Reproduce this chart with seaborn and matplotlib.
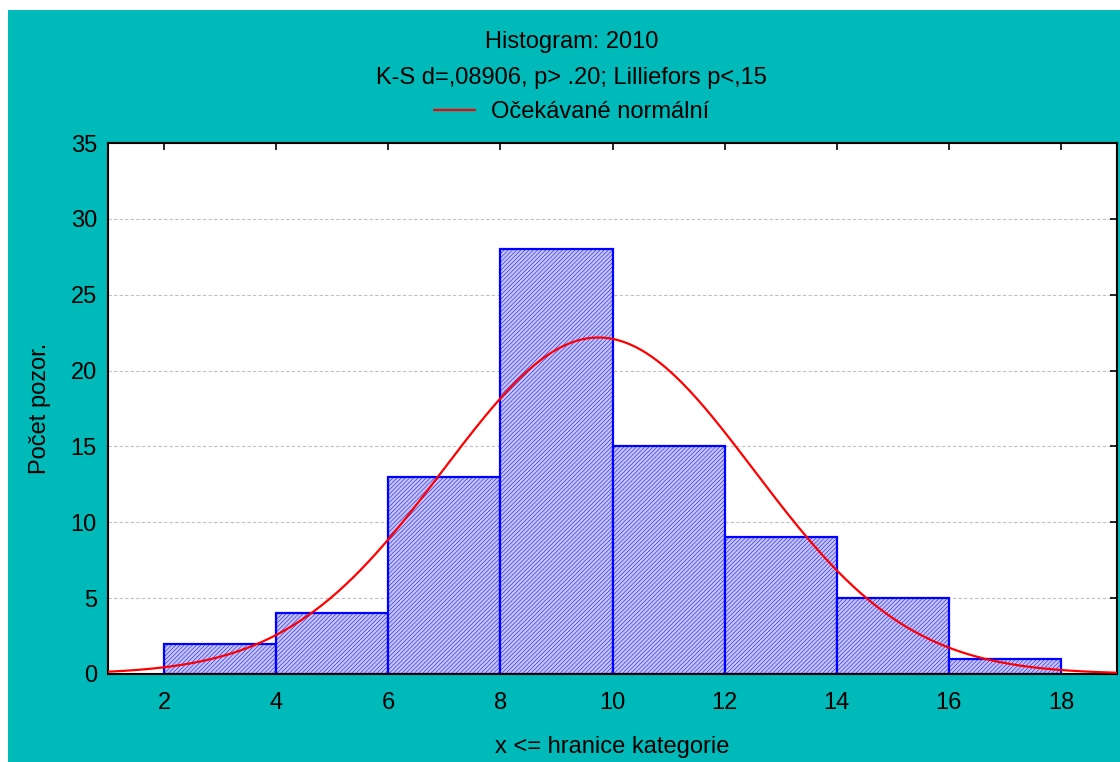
import matplotlib
matplotlib.use("Agg")
import matplotlib.pyplot as plt
import numpy as np
import seaborn as sns
from matplotlib.patches import Rectangle

# histogram (upper bin edges -> counts)
bin_edges = [2, 4, 6, 8, 10, 12, 14, 16, 18]
counts = [2, 4, 13, 28, 15, 9, 5, 1]
# fitted normal
fit_mean = 9.75
fit_sd = 2.77
n_obs = sum(counts)
y_ticks = [0, 5, 10, 15, 20, 25, 30, 35]
x_ticks = [2, 4, 6, 8, 10, 12, 14, 16, 18]

sns.set_style("white")
plt.rcParams["font.family"] = ["Liberation Sans", "DejaVu Sans"]
plt.rcParams["text.color"] = "black"
plt.rcParams["axes.labelcolor"] = "black"
plt.rcParams["hatch.linewidth"] = 0.35

fig = plt.figure(figsize=(11.2, 7.62), dpi=100)
fig.patch.set_facecolor("white")
fig.add_artist(Rectangle((8 / 1120, 0), 1 - 8 / 1120, 752 / 762, transform=fig.transFigure,
                         facecolor="#00b9b9", edgecolor="none", zorder=-10))
ax = fig.add_axes([108 / 1120, 88 / 762, 1009 / 1120, 531 / 762])
ax.set_facecolor("white")

centers = [(a + b) / 2 for a, b in zip(bin_edges[:-1], bin_edges[1:])]
sns.histplot(x=centers, weights=counts, bins=bin_edges, ax=ax,
             facecolor="#c4c4f6", edgecolor="#0000ff", linewidth=1.6,
             hatch="////////", alpha=1, zorder=2)

xs = np.linspace(1, 19, 400)
width = bin_edges[1] - bin_edges[0]
ys = n_obs * width / (fit_sd * np.sqrt(2 * np.pi)) * np.exp(-0.5 * ((xs - fit_mean) / fit_sd) ** 2)
sns.lineplot(x=xs, y=ys, ax=ax, color="#ff0000", linewidth=1.6, zorder=3,
             label="Očekávané normální", legend=False)

ax.set_xlim(1, 19)
ax.set_ylim(0, 35)
ax.set_xticks(x_ticks)
ax.set_yticks(y_ticks)
ax.yaxis.grid(True, linestyle=(0, (3, 2)), color="#c0c0c0", linewidth=0.8)
ax.set_axisbelow(True)
ax.tick_params(direction="in", length=5, width=1.2, top=True, right=True,
               labelsize=17, colors="black", pad=13)
ax.tick_params(axis="y", pad=8)
for s in ax.spines.values():
    s.set_color("black")
    s.set_linewidth(1.5)

ax.set_xlabel("x <= hranice kategorie", fontsize=17, labelpad=16)
ax.set_ylabel("Počet pozor.", fontsize=17, labelpad=14)

fig.text(0.5105, 720 / 762, "Histogram: 2010", ha="center", va="center", fontsize=17)
fig.text(0.5105, 684 / 762, "K-S d=,08906, p> .20; Lilliefors p<,15", ha="center", va="center", fontsize=17)
handles, labels = ax.get_legend_handles_labels()
fig.legend(handles, labels, loc="center", bbox_to_anchor=(0.5105, 650 / 762), frameon=False,
           fontsize=17, handlelength=1.7, handletextpad=0.7)

fig.savefig("out.png", dpi=100)
